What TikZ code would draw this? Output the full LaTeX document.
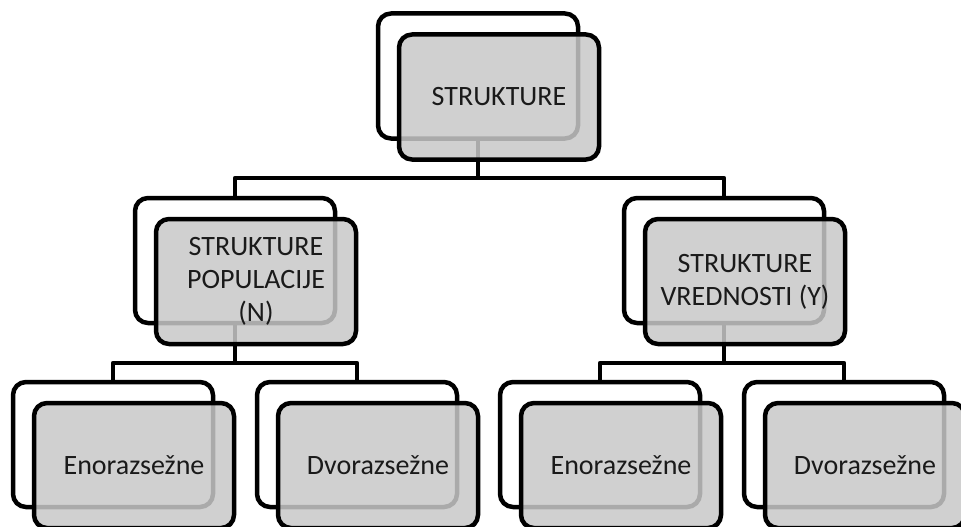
\documentclass[tikz,border=0pt]{standalone}
\usepackage{fontspec}
\setmainfont{Carlito}
\definecolor{frontgray}{RGB}{200,200,200}
\definecolor{txt}{RGB}{26,26,26}
\begin{document}
\begin{tikzpicture}[x=1pt,y=-1pt,
  backbox/.style={draw=black, fill=white, line width=4.5pt, rounded corners=13pt,
    minimum width=200pt, minimum height=125pt, inner sep=0pt},
  frontbox/.style={draw=black, fill=frontgray, fill opacity=0.85, text opacity=1,
    draw opacity=1, line width=4.5pt, rounded corners=13pt,
    minimum width=200pt, minimum height=125pt, inner sep=0pt, align=center,
    text=txt, font=\fontsize{28pt}{33pt}\selectfont},
  conn/.style={draw=black, line width=4.5pt, line join=round}]
\useasboundingbox (0,0) rectangle (961,527);
\clip (0,0) rectangle (961,527);
\coordinate (h1) at (0,178);
\coordinate (h2) at (0,363);
\path (478,76) coordinate (pTop);
\path (235,260.5) coordinate (pL);
\path (724,260.5) coordinate (pR);
\path (113,444.5) coordinate (pA);
\path (357,444.5) coordinate (pB);
\path (600,444.5) coordinate (pC);
\path (844,444.5) coordinate (pD);
% invisible anchors for connectors
\node[backbox, draw=none, fill=none] (topB) at (pTop) {};
\node[backbox, draw=none, fill=none] (lB) at (pL) {};
\node[backbox, draw=none, fill=none] (rB) at (pR) {};
\node[backbox, draw=none, fill=none] (aB) at (pA) {};
\node[backbox, draw=none, fill=none] (bB) at (pB) {};
\node[backbox, draw=none, fill=none] (cB) at (pC) {};
\node[backbox, draw=none, fill=none] (dB) at (pD) {};
% connectors
\draw[conn] (topB.center) -- (topB.center |- h1);
\draw[conn] (lB.north) -- (lB.north |- h1) -- (rB.north |- h1) -- (rB.north);
\draw[conn] (lB.center) -- (lB.center |- h2);
\draw[conn] (aB.north) -- (aB.north |- h2) -- (bB.north |- h2) -- (bB.north);
\draw[conn] (rB.center) -- (rB.center |- h2);
\draw[conn] (cB.north) -- (cB.north |- h2) -- (dB.north |- h2) -- (dB.north);
% top
\node[backbox] (topBk) at (pTop) {};
\node[frontbox] (topF) at ([shift={(21,21)}]pTop) {STRUKTURE};
% level 2
\node[backbox] (lBk) at (pL) {};
\node[frontbox] (lF) at ([shift={(21,21)}]pL) {STRUKTURE\\POPULACIJE\\(N)};
\node[backbox] (rBk) at (pR) {};
\node[frontbox] (rF) at ([shift={(21,21)}]pR) {STRUKTURE\\VREDNOSTI (Y)};
% level 3
\node[backbox] (aBk) at (pA) {};
\node[frontbox] (aF) at ([shift={(21,21)}]pA) {Enorazsežne};
\node[backbox] (bBk) at (pB) {};
\node[frontbox] (bF) at ([shift={(21,21)}]pB) {Dvorazsežne};
\node[backbox] (cBk) at (pC) {};
\node[frontbox] (cF) at ([shift={(21,21)}]pC) {Enorazsežne};
\node[backbox] (dBk) at (pD) {};
\node[frontbox] (dF) at ([shift={(21,21)}]pD) {Dvorazsežne};
\end{tikzpicture}
\end{document}
